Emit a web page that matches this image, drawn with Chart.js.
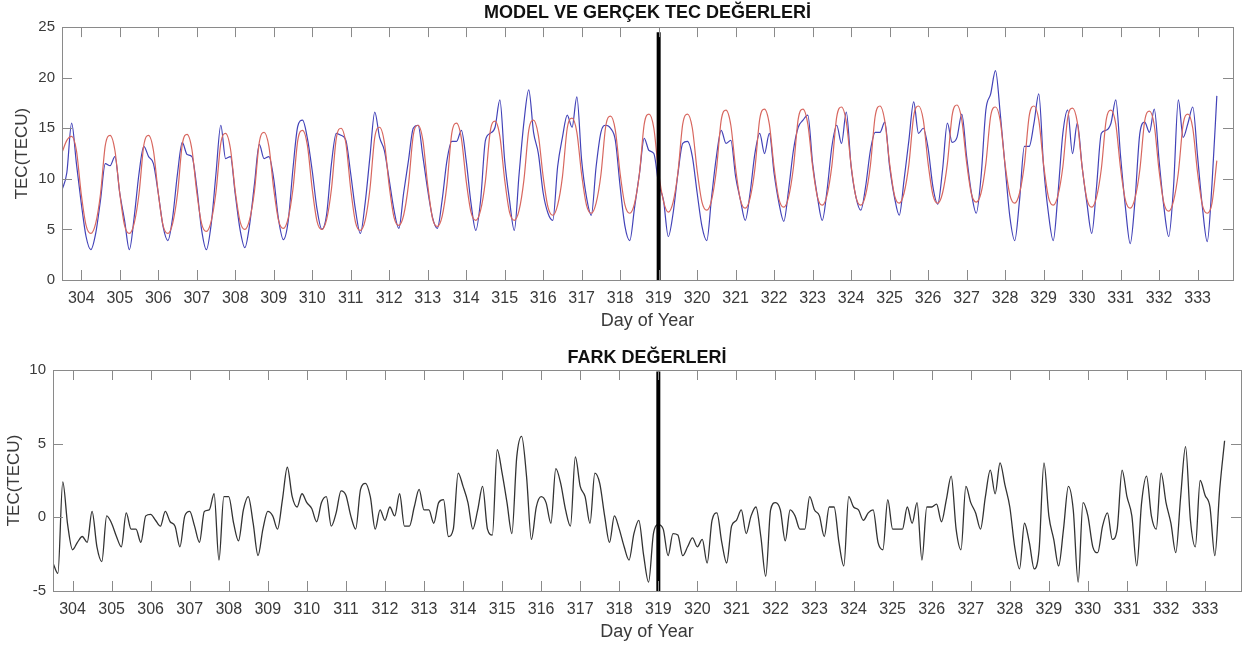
<!DOCTYPE html>
<html>
<head>
<meta charset="utf-8">
<script src="https://cdn.jsdelivr.net/npm/chart.js@4.4.0/dist/chart.umd.min.js"></script>
<style>
  html, body { margin: 0; padding: 0; background: #fff; }
  #top { position: absolute; left: 0; top: 0; width: 1248px; height: 335px; }
  #bottom { position: absolute; left: 0; top: 335px; width: 1248px; height: 316px; }
</style>
</head>
<body>
<div id="top"><canvas id="tecChart"></canvas></div>
<div id="bottom"><canvas id="diffChart"></canvas></div>
<script>
// samples every 3 hours, starting at day 303.5
const startDay = 303.5;
const stepDay = 0.125;
const splitDay = 319;
const dayTicks = [304,305,306,307,308,309,310,311,312,313,314,315,316,317,318,319,
  320,321,322,323,324,325,326,327,328,329,330,331,332,333];

// measured (real) TEC, blue
const realTec = [
  8.9, 10.6, 15.5, 11.5,
  7.6, 4.3, 3.0, 4.6, 7.9, 11.5, 11.3, 12.2,
  8.6, 5.9, 3.0, 6.2, 10.5, 13.2, 12.2, 11.5,
  8.6, 5.3, 3.9, 6.2, 10.5, 13.6, 12.4, 12.2,
  9.2, 5.0, 3.0, 5.5, 10.5, 15.3, 12.0, 12.2,
  8.5, 5.0, 3.2, 5.5, 9.5, 13.4, 12.0, 12.2,
  10.0, 6.0, 4.0, 5.8, 11.0, 15.2, 15.8, 14.0,
  10.8, 7.0, 5.0, 6.5, 11.5, 14.5, 14.3, 13.8,
  10.5, 6.9, 4.6, 7.6, 12.2, 16.6, 14.1, 12.8,
  9.9, 6.9, 5.1, 8.6, 11.8, 15.0, 15.3, 12.2,
  8.9, 6.2, 5.1, 7.9, 11.8, 13.7, 13.7, 14.8,
  11.8, 7.6, 4.9, 7.9, 13.8, 14.5, 15.1, 17.8,
  11.8, 7.9, 4.9, 10.5, 15.6, 18.8, 14.6, 12.5,
  8.6, 6.6, 5.9, 11.2, 14.1, 16.3, 15.1, 18.1,
  11.8, 8.2, 6.4, 11.2, 14.6, 15.3, 15.0, 13.8,
  9.2, 5.3, 3.9, 7.2, 10.5, 14.0, 12.8, 12.5,
  9.5, 7.9, 4.3, 6.6, 10.5, 13.5, 13.7, 12.2,
  8.6, 5.3, 3.9, 8.2, 12.2, 14.8, 13.5, 13.8,
  10.2, 7.9, 5.9, 8.6, 12.5, 14.5, 12.5, 14.5,
  10.5, 7.6, 5.8, 8.9, 12.8, 15.1, 15.8, 16.3,
  11.5, 8.2, 5.9, 8.9, 13.2, 15.3, 13.5, 16.6,
  11.2, 8.2, 6.9, 9.2, 12.8, 14.6, 14.6, 15.6,
  11.2, 8.2, 6.4, 9.9, 13.8, 17.6, 14.5, 15.0,
  13.0, 9.2, 7.5, 10.9, 15.5, 13.6, 14.1, 16.4,
  12.2, 8.6, 6.6, 10.2, 16.8, 18.4, 20.7, 16.4,
  11.2, 6.2, 3.9, 7.9, 13.2, 13.2, 15.5, 18.4,
  11.2, 6.6, 3.9, 8.6, 14.5, 16.8, 12.5, 15.5,
  11.2, 7.6, 4.6, 9.2, 14.5, 14.8, 15.5, 17.8,
  12.2, 7.2, 3.6, 7.9, 14.5, 15.6, 14.6, 16.9,
  11.8, 7.2, 4.3, 9.2, 17.8, 14.1, 15.5, 17.1,
  12.2, 7.2, 3.8, 9.5, 18.2
];

// model TEC, red
const modelTec = [
  12.6, 13.8, 14.2, 12.8,
  8.5, 5.4, 4.6, 5.6, 8.5, 13.3, 14.3, 12.8,
  8.6, 5.4, 4.6, 5.6, 8.5, 13.3, 14.3, 12.8,
  8.6, 5.4, 4.6, 5.6, 8.5, 13.4, 14.4, 12.9,
  8.7, 5.6, 4.8, 5.8, 8.7, 13.5, 14.5, 13.0,
  8.8, 5.8, 5.0, 6.0, 8.8, 13.6, 14.6, 13.2,
  9.0, 5.9, 5.1, 6.1, 9.0, 13.8, 14.8, 13.3,
  9.0, 5.8, 5.0, 6.0, 9.0, 14.0, 15.0, 13.5,
  9.0, 5.7, 4.9, 5.9, 9.0, 14.1, 15.1, 13.6,
  9.3, 6.2, 5.4, 6.4, 9.4, 14.3, 15.3, 13.8,
  9.4, 6.1, 5.3, 6.3, 9.4, 14.5, 15.5, 14.0,
  9.8, 6.7, 5.9, 6.9, 9.8, 14.7, 15.7, 14.2,
  9.9, 6.7, 5.9, 6.9, 9.9, 14.8, 15.8, 14.3,
  10.2, 7.2, 6.4, 7.4, 10.2, 15.0, 16.0, 14.6,
  10.4, 7.4, 6.6, 7.6, 10.4, 15.2, 16.2, 14.8,
  10.5, 7.4, 6.6, 7.6, 10.5, 15.4, 16.4, 15.0,
  10.6, 7.8, 6.7, 7.7, 10.6, 15.4, 16.4, 15.0,
  10.8, 7.7, 6.9, 7.9, 10.9, 15.8, 16.8, 15.3,
  11.0, 7.9, 7.1, 8.1, 11.0, 15.9, 16.9, 15.4,
  11.1, 8.0, 7.2, 8.2, 11.1, 15.9, 16.9, 15.4,
  11.2, 8.2, 7.4, 8.4, 11.3, 16.1, 17.1, 15.6,
  11.3, 8.2, 7.4, 8.4, 11.3, 16.2, 17.2, 15.7,
  11.5, 8.4, 7.6, 8.6, 11.4, 16.2, 17.2, 15.8,
  11.5, 8.4, 7.6, 8.6, 11.5, 16.3, 17.3, 15.8,
  11.6, 8.5, 7.7, 8.6, 11.5, 16.2, 17.1, 15.7,
  11.4, 8.4, 7.6, 8.6, 11.4, 16.2, 17.2, 15.8,
  11.4, 8.2, 7.4, 8.4, 11.2, 16.0, 17.0, 15.6,
  11.2, 8.0, 7.2, 8.2, 11.0, 15.8, 16.8, 15.4,
  11.0, 7.9, 7.1, 8.1, 10.9, 15.7, 16.7, 15.3,
  10.8, 7.6, 6.8, 7.8, 10.6, 15.4, 16.4, 15.0,
  10.6, 7.4, 6.6, 7.6, 11.8
];

// difference (FARK), black
const diffTec = [
  -3.1, -3.8, 2.4, -0.5,
  -2.2, -1.7, -1.3, -1.7, 0.4, -2.0, -3.0, 0.1,
  -0.4, -1.3, -2.0, 0.3, -0.8, -0.8, -1.7, 0.1,
  0.2, -0.2, -0.6, 0.4, -0.3, -0.6, -2.0, 0.1,
  0.4, -0.6, -1.7, 0.4, 0.5, 1.6, -2.9, 1.4,
  1.4, -0.4, -1.6, 0.5, 1.4, -0.4, -2.6, -0.8,
  0.4, 0.1, -0.8, 1.2, 3.4, 1.4, 0.7, 1.6,
  1.0, 0.6, -0.3, 1.0, 1.4, -0.6, 0.3, 1.8,
  1.5, 0.1, -0.8, 1.9, 2.3, 1.4, -0.8, 0.5,
  -0.2, 0.7, 0.1, 1.6, -0.6, -0.6, 0.7, 1.9,
  0.5, 0.5, -0.4, 1.0, 1.2, -1.3, -0.8, 3.0,
  2.1, 1.0, -0.8, 0.5, 2.1, -0.8, -1.2, 4.6,
  3.0, 1.0, -1.1, 4.1, 5.5, 2.8, -1.5, 0.7,
  1.4, 1.0, -0.4, 3.3, 2.3, 0.5, -0.6, 4.1,
  2.1, 1.4, -0.4, 3.0, 2.3, 0.1, -1.7, 0.1,
  -0.8, -2.0, -2.9, -1.1, -0.2, -2.6, -4.4, -1.1,
  -0.5, -0.8, -2.6, -1.1, -1.2, -2.6, -2.0, -1.4,
  -2.0, -1.5, -3.1, -0.2, 0.3, -1.7, -3.1, -0.6,
  -0.2, 0.5, -1.1, 0.1, 0.7, -1.3, -4.0, 0.5,
  1.0, 0.5, -1.6, 0.5, 0.1, -0.8, -0.8, 1.4,
  0.5, 0.1, -1.3, 0.7, 0.7, -1.7, -3.3, 1.4,
  0.7, 0.5, -0.2, 0.3, 0.5, -1.7, -2.2, 1.2,
  -0.8, -0.8, -0.8, 0.7, -0.4, 1.0, -2.9, 0.7,
  0.7, 0.9, -0.3, 1.2, 2.8, -0.8, -2.2, 2.1,
  1.0, 0.3, -0.8, 1.4, 3.2, 1.6, 3.7, 2.2,
  0.7, -2.0, -3.5, -0.4, -1.7, -3.5, -2.2, 3.7,
  0.1, -1.5, -3.3, -0.8, 2.1, 0.5, -4.4, 1.0,
  0.1, -2.0, -2.4, -0.6, 0.3, -1.5, -0.8, 3.2,
  1.4, 0.1, -3.3, 1.0, 2.8, 0.1, -0.8, 3.0,
  1.0, -0.4, -2.4, 1.4, 4.8, -0.2, -2.0, 2.5,
  1.5, 0.7, -2.6, 1.9, 5.2
];

const toPoints = vals => vals.map((v, i) => ({ x: startDay + i * stepDay, y: v }));
const FONT = "'Liberation Sans', Arial, sans-serif";
const TXT = '#3a3a3a';

// MATLAB-like box with inward ticks on all four sides
const matlabBox = {
  id: 'matlabBox',
  afterDatasetsDraw(chart) {
    const { ctx, chartArea: a, scales } = chart;
    const len = 10;
    ctx.save();
    ctx.strokeStyle = '#8a8a8a';
    ctx.lineWidth = 1;
    ctx.strokeRect(Math.round(a.left) + 0.5, Math.round(a.top) + 0.5,
      Math.round(a.right - a.left), Math.round(a.bottom - a.top));
    ctx.beginPath();
    scales.x.ticks.forEach(t => {
      const px = Math.round(scales.x.getPixelForValue(t.value)) + 0.5;
      ctx.moveTo(px, a.bottom); ctx.lineTo(px, a.bottom - len);
      ctx.moveTo(px, a.top); ctx.lineTo(px, a.top + len);
    });
    scales.y.ticks.forEach(t => {
      const py = Math.round(scales.y.getPixelForValue(t.value)) + 0.5;
      ctx.moveTo(a.left, py); ctx.lineTo(a.left + len, py);
      ctx.moveTo(a.right, py); ctx.lineTo(a.right - len, py);
    });
    ctx.stroke();
    ctx.restore();
  }
};

function makeOptions(o) {
  return {
    responsive: true,
    maintainAspectRatio: false,
    animation: false,
    devicePixelRatio: 1,
    layout: { padding: { left: 0, right: o.rightPad, top: 0, bottom: 0 } },
    plugins: {
      legend: { display: false },
      tooltip: { enabled: false },
      title: {
        display: true,
        text: o.title,
        fullSize: false,
        color: '#111',
        font: { family: FONT, size: 18, weight: 'bold' },
        padding: { top: o.titleTop, bottom: o.titleBottom }
      }
    },
    scales: {
      x: {
        type: 'linear',
        min: 303.5,
        max: 333.92,
        grid: { display: false, drawTicks: false },
        border: { display: false },
        afterBuildTicks: s => { s.ticks = dayTicks.map(v => ({ value: v })); },
        afterFit: s => { s.height = o.xHeight; },
        ticks: {
          autoSkip: false, maxRotation: 0, padding: 9, color: TXT,
          font: { family: FONT, size: 16 },
          callback: v => String(v)
        },
        title: {
          display: true, text: 'Day of Year', color: TXT,
          font: { family: FONT, size: 18 },
          padding: { top: 0, bottom: o.xTitleBottom }
        }
      },
      y: {
        min: o.yMin,
        max: o.yMax,
        grid: { display: false, drawTicks: false },
        border: { display: false },
        afterFit: s => { s.width = o.yWidth; },
        ticks: {
          stepSize: 5, padding: 7, color: TXT,
          font: { family: FONT, size: 15 }
        },
        title: {
          display: true, text: 'TEC(TECU)', color: TXT,
          font: { family: FONT, size: 17 },
          padding: { top: o.yTitleTop, bottom: 0 }
        }
      }
    }
  };
}

const lineStyle = { pointRadius: 0, cubicInterpolationMode: 'monotone', fill: false };

new Chart(document.getElementById('tecChart'), {
  type: 'line',
  data: {
    datasets: [
      { label: 'split', data: [{ x: splitDay, y: 0 }, { x: splitDay, y: 24.5 }],
        borderColor: '#000', borderWidth: 4, pointRadius: 0 },
      Object.assign({ label: 'Model', data: toPoints(modelTec), borderColor: '#d8675f', borderWidth: 1.2 }, lineStyle),
      Object.assign({ label: 'Gerçek', data: toPoints(realTec), borderColor: '#4242b8', borderWidth: 1.2 }, lineStyle)
    ]
  },
  options: makeOptions({
    title: 'MODEL VE GERÇEK TEC DEĞERLERİ',
    titleTop: 2.5, titleBottom: 3,
    rightPad: 15, yWidth: 62, xHeight: 55,
    xTitleBottom: 3, yTitleTop: 12,
    yMin: 0, yMax: 25
  }),
  plugins: [matlabBox]
});

new Chart(document.getElementById('diffChart'), {
  type: 'line',
  data: {
    datasets: [
      { label: 'split', data: [{ x: splitDay, y: -5 }, { x: splitDay, y: 9.9 }],
        borderColor: '#000', borderWidth: 4, pointRadius: 0 },
      Object.assign({ label: 'Fark', data: toPoints(diffTec), borderColor: '#333333', borderWidth: 1.3 }, lineStyle)
    ]
  },
  options: makeOptions({
    title: 'FARK DEĞERLERİ',
    titleTop: 12, titleBottom: 1.4,
    rightPad: 7, yWidth: 53, xHeight: 60,
    xTitleBottom: 8, yTitleTop: 4,
    yMin: -5, yMax: 10
  }),
  plugins: [matlabBox]
});
</script>
</body>
</html>
